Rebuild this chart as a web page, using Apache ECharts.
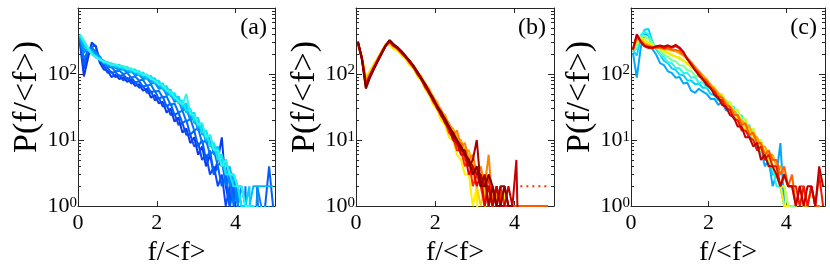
<!DOCTYPE html>
<html><head><meta charset="utf-8">
<script src="https://cdn.jsdelivr.net/npm/echarts@6.0.0/dist/echarts.min.js"></script>
<style>html,body{margin:0;padding:0;background:#fff}#c{width:830px;height:272px}</style>
</head><body><div id="c"></div>
<script>
// bin centres of f/<f>
const binX = [0.05,0.15,0.25,0.35,0.45,0.55,0.65,0.75,0.85,0.95,1.05,1.15,1.25,1.35,1.45,1.55,1.65,1.75,1.85,1.95,2.05,2.15,2.25,2.35,2.45,2.55,2.65,2.75,2.85,2.95,3.05,3.15,3.25,3.35,3.45,3.55,3.65,3.75,3.85,3.95,4.05,4.15,4.25,4.35,4.45,4.55,4.65,4.75,4.85,4.95];
const xTickLabels = ['0','2','4'];
const panelLabels = ['(a)','(b)','(c)'];
const xName = 'f/<f>';
const yName = 'P(f/<f>)';

// panel (a): blue -> cyan
const a1  = [290,92,170,300,260,150,118,112,90,98, 84,90,76,82,66,70,56,60,44,48, 36,38,26,30,19,22,13,15,9,11, 6,8,4,6,3,5,11,2,1,2, 0,1,0,0,1,0,0,0,0,0];
const a2  = [310,120,210,260,270,160,140,104,108,90, 96,80,88,72,76,62,66,52,55,40, 44,32,34,24,25,17,18,12,12,8, 9,5,6,3,4,2,3,1,2,0, 1,0,1,0,0,2,0,0,1,0];
const a3  = [330,140,240,240,220,180,128,124,104,108, 92,98,84,90,74,78,64,68,52,56, 42,46,32,36,24,26,18,20,12,14, 8,10,5,7,3,4,2,3,1,2, 0,1,1,0,1,0,0,1,4,1];
const a4  = [345,170,220,260,200,185,150,130,126,110, 112,100,104,88,92,80,82,66,70,54, 56,44,46,34,36,26,28,19,21,14, 15,9,10,6,7,4,5,2,3,1, 2,0,2,0,1,0,1,0,0,1];
const a5  = [355,210,250,220,215,170,158,138,130,124, 116,118,104,110,96,98,84,86,72,74, 60,62,48,50,38,40,28,30,20,22, 14,16,9,11,6,7,4,5,2,3, 1,2,1,1,0,2,1,0,1,0];
const a6  = [365,240,230,230,190,178,146,150,128,134, 122,126,110,116,100,104,88,92,78,80, 62,68,50,54,40,42,30,33,22,24, 15,17,10,11,7,7,4,5,3,3, 2,1,1,0,1,0,0,1,0,0];
const a7  = [372,270,240,200,196,160,160,140,142,128, 132,116,124,106,112,96,102,84,90,72, 76,58,62,46,48,36,38,26,28,18, 20,12,14,8,9,5,6,3,4,2, 2,2,1,1,2,2,2,2,2,2];
const a8  = [380,290,250,215,180,172,150,152,136,140, 124,132,116,120,104,112,94,98,84,86, 68,72,54,58,42,46,32,36,24,26, 16,18,10,12,7,8,4,5,3,3, 2,1,1,2,0,1,0,1,0,0];
const a9  = [390,305,235,205,186,166,160,144,146,134, 138,122,128,112,118,100,106,90,94,76, 80,62,66,48,52,36,40,28,30,20, 22,13,14,8,9,5,6,3,3,2, 2,1,0,1,1,0,1,0,0,0];
const a10 = [400,320,255,200,178,168,152,150,138,140, 130,132,118,122,108,110,96,98,84,80, 70,68,56,54,44,40,34,50,25,24, 17,18,11,12,7,7,4,5,3,3, 2,2,1,1,0,1,0,0,0,0];

// panel (b): yellow -> dark red
const b1  = [300,185,92,112,142,178,222,268,282,238, 226,190,170,136,122,92,80,58,48,34, 29,20,17,11,10,6,5,3,3,1, 2,0,0,0,0,0,0,2,0,0];
const b2  = [282,165,86,104,136,172,226,282,296,260, 236,208,174,152,124,104,80,68,50,42, 31,27,19,16,11,10,7,6,4,3, 2,1,2,0,1,0,0,0,0,0];
const b3  = [276,178,82,102,130,164,214,272,304,272, 246,212,188,156,136,108,92,70,60,44, 38,27,24,17,15,11,10,7,7,4, 4,2,3,1,2,0,1,0,0,0];
const b4  = [284,168,76,98,124,168,210,274,300,266, 244,214,180,160,130,110,86,72,54,46, 33,29,21,18,12,14,8,9,5,6, 3,4,2,6,1,2,0,1,0,0];
const b5  = [290,172,74,96,126,160,206,266,310,272, 240,210,184,150,132,100,88,64,56,40, 34,24,21,14,13,8,9,5,5,3, 4,2,3,1,2,1,2,1,1,1, 1,1,1,1,1,1,1,1,1];
const b6  = [294,170,71,95,128,166,216,276,306,264, 242,206,180,150,128,100,84,62,52,38, 32,23,19,13,11,7,7,4,5,2, 3,2,1,3,1,0,2,1,1,0];
const b7  = [298,174,68,94,124,162,212,270,314,270, 246,212,182,154,126,104,82,66,50,41, 30,25,18,15,10,9,6,6,3,4, 2,3,1,2,1,2,1,0,1,0];
const b8  = [300,176,66,92,122,160,210,272,320,276, 248,216,186,158,130,106,84,66,52,40, 31,24,19,15,12,9,8,6,5,4, 3,3,2,2,1,2,1,1,2,1, 5,0];
const b9  = [306,170,62,90,120,158,206,270,324,280, 250,220,184,160,132,104,86,68,53,43, 31,27,19,16,11,10,7,7,4,5, 10,2,3,1,2,1,2,2,1,1, 0];
const b10 = [312,166,60,88,118,156,204,268,326,282, 254,222,188,158,134,108,86,70,54,42, 33,26,21,16,13,10,8,6,5,3, 4,2,2,3,2,1,1,2,1,0];
const bDotsX = [4.15,4.25,4.35,4.45,4.55,4.65,4.75,4.85];
const bDotsY = [2,2,2,2,2,2,2,2];

// panel (c): light blue -> dark red
const c1  = [210,88,250,400,390,240,196,146,136,110, 104,88,90,72,74,56,52,60,54,50, 42,42,34,38,28,29,22,21,15,15, 11,11,7,7,4,5,2,3,9,1, 0,0];
const c2  = [228,190,350,470,480,310,236,196,158,146, 122,116,98,96,80,80,70,72,62,62, 50,48,40,40,32,32,24,24,17,17, 12,12,8,8,5,5,3,3,2,1, 1,0];
const c3  = [222,240,390,440,400,300,250,200,180,152, 146,124,122,104,104,88,90,74,76,62, 62,50,50,40,40,30,32,22,24,15, 17,10,11,6,7,4,4,2,2,1, 1,1,0];
const c4  = [224,270,370,380,340,290,252,226,196,184, 160,156,136,134,114,112,94,92,78,76, 62,60,48,48,37,38,28,29,19,21, 13,15,9,10,6,6,4,4,2,2, 1,1,1,0,1,0];
const c5  = [228,300,350,340,300,280,250,236,218,206, 190,184,168,164,140,132,114,108,86,84, 66,64,50,50,38,38,28,29,20,21, 14,15,10,10,6,6,4,4,2,2, 1,0,1,0];
const c6  = [230,320,340,310,292,268,258,240,228,210, 198,184,178,158,148,126,114,96,88,72, 66,54,50,40,38,29,28,20,20,14, 15,10,11,7,7,5,4,3,2,1, 1,0];
const c7  = [232,340,330,290,275,262,254,250,238,236, 226,222,206,190,170,148,130,110,96,82, 70,60,52,44,38,32,28,23,20,17, 16,12,11,8,8,6,6,4,4,3, 2,2,1,2,1,1,2,1,1,0];
const c8  = [235,360,318,276,264,254,250,252,244,244, 236,232,222,198,176,150,124,108,88,80, 64,58,46,44,34,32,24,24,17,18, 12,13,9,9,6,7,5,5,3,4, 2,3,1,2,2,1,2,1,1,0];
const c9  = [230,390,302,262,248,246,256,262,248,260, 250,264,244,214,170,144,114,100,82,74, 60,54,42,40,30,29,21,20,14,14, 11,10,7,8,5,6,4,4,2,3, 2,2,2,1,2,1,2,1,3,1];
const c10 = [240,400,310,266,256,250,264,270,262,272, 258,276,252,216,168,138,116,94,84,68, 62,48,44,34,32,24,22,16,16,11, 11,8,9,5,6,4,4,3,2,3, 2,2,1,2,1,2,2,1,4,2];

const panels = [
  {series:[a1,a2,a3,a4,a5,a6,a7,a8,a9,a10],
   colors:['#0838f0','#0a48ff','#005eff','#0074ff','#008aff','#00a0ff','#00b8ff','#00d0ff','#10e4f6','#30f4e4']},
  {series:[b1,b2,b3,b4,b5,b6,b7,b8,b9,b10],
   colors:['#ffee00','#ffd000','#ffac00','#ff8400','#ff5a00','#ff2a00','#e60000','#c40000','#a40000','#860000']},
  {series:[c1,c2,c3,c4,c5,c6,c7,c8,c9,c10],
   colors:['#00a8ff','#00d4ff','#30f4e8','#7cff9a','#c8ff30','#ffe800','#ffaa00','#ff6000','#f01800','#c00000']}
];

const gridBox = [
  {left:78, top:8, width:197, height:206},
  {left:356, top:8, width:198, height:206},
  {left:631, top:8, width:194, height:206}
];
const FONT = '"Liberation Serif", serif';
const AX = '#262626';

const grids = [], xAxes = [], yAxes = [], series = [], graphics = [];
gridBox.forEach((g, gi) => {
  grids.push(Object.assign({containLabel:false}, g));
  const tickVals = xTickLabels.map(Number);
  xAxes.push({type:'value', gridIndex:gi, min:0, max:5, interval:2, position:'bottom',
    axisLine:{show:true, onZero:false, lineStyle:{color:AX, width:1}},
    axisTick:{show:true, inside:true, length:5, lineStyle:{color:AX}},
    splitLine:{show:false},
    axisLabel:{show:true, margin:6, color:'#000',
      formatter: v => '{t|' + (xTickLabels[tickVals.indexOf(v)] || '') + '}',
      rich:{t:{fontFamily:FONT, fontSize:22, color:'#000'}}},
    name:'{n|' + xName + '}', nameLocation:'middle', nameGap:31,
    nameTextStyle:{fontFamily:FONT, fontSize:28, color:'#000', rich:{n:{fontFamily:FONT, fontSize:28, color:'#000'}}}});
  xAxes.push({type:'value', gridIndex:gi, min:0, max:5, interval:2, position:'top',
    axisLine:{show:true, onZero:false, lineStyle:{color:AX, width:1}},
    axisTick:{show:true, inside:true, length:5, lineStyle:{color:AX}},
    splitLine:{show:false}, axisLabel:{show:false}});
  const yBase = {type:'log', logBase:10, gridIndex:gi, min:1, max:1000,
    axisLine:{show:true, onZero:false, lineStyle:{color:AX, width:1}},
    axisTick:{show:true, inside:true, length:6, lineStyle:{color:AX}},
    minorTick:{show:true, splitNumber:9, length:3, lineStyle:{color:AX}},
    splitLine:{show:false}, minorSplitLine:{show:false}};
  yAxes.push(Object.assign({}, yBase, {position:'left',
    axisLabel:{show:true, margin:1,
      formatter: v => { const e = Math.round(Math.log10(v)); return e > 2 ? '' : '{b|10}{s|' + e + '}'; },
      rich:{
        b:{fontFamily:FONT, fontSize:22, lineHeight:22, color:'#000', verticalAlign:'bottom'},
        s:{fontFamily:FONT, fontSize:15, lineHeight:15, color:'#000', verticalAlign:'top', padding:[0,0,13,0]}
      }}}));
  yAxes.push(Object.assign({}, yBase, {position:'right', axisLabel:{show:false}}));

  const p = panels[gi];
  p.series.forEach((arr, si) => {
    series.push({type:'line', xAxisIndex:gi*2, yAxisIndex:gi*2,
      // zero counts fall off the bottom of the log axis, as in the original plot
      data: arr.map((v, i) => [binX[i], v === 0 ? 0.01 : v]),
      showSymbol:false, clip:true, silent:true, animation:false,
      lineStyle:{color:p.colors[si], width:2}, z:2 + si});
  });

  graphics.push({type:'text', x:g.left + g.width - 8, y:28,
    style:{text:panelLabels[gi], font:"24px 'Liberation Serif'", fill:'#000', align:'right', verticalAlign:'middle'}});
  graphics.push({type:'text', x:g.left - 51, y:97, rotation:Math.PI/2,
    style:{text:yName, font:"34px 'Liberation Serif'", fill:'#000', align:'center', verticalAlign:'middle'}});
});
series.push({type:'line', xAxisIndex:2, yAxisIndex:2,
  data: bDotsX.map((x, i) => [x, bDotsY[i]]), showSymbol:false, clip:true, silent:true, animation:false,
  lineStyle:{color:'#ff2a00', width:2, type:[2,4]}, z:20});

const chart = echarts.init(document.getElementById('c'), null, {renderer:'canvas'});
chart.setOption({animation:false, backgroundColor:'#fff', textStyle:{fontFamily:FONT},
  grid:grids, xAxis:xAxes, yAxis:yAxes, series:series, graphic:graphics});
</script></body></html>
